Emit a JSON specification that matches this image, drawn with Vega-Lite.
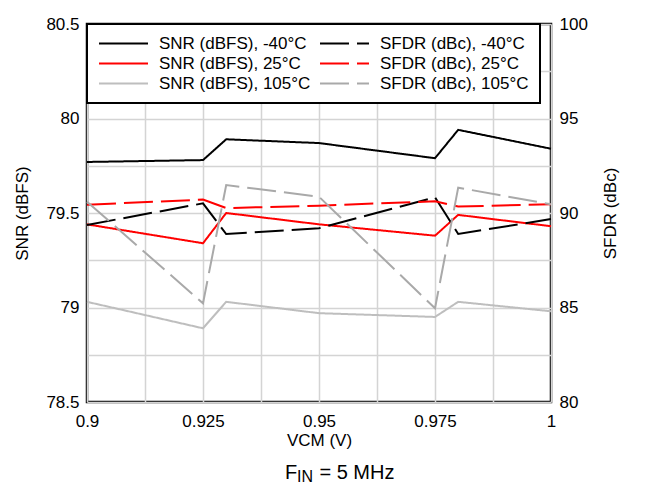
{
  "$schema": "https://vega.github.io/schema/vega-lite/v6.json",
  "width": 464,
  "height": 378,
  "autosize": {"type": "none"},
  "padding": {"left": 87, "top": 24, "right": 103, "bottom": 83},
  "background": "white",
  "title": {
    "text": "F\u2007\u2008 = 5 MHz",
    "subtitle": "\u200B\u2007\u2009IN",
    "orient": "bottom",
    "anchor": "middle",
    "frame": "group",
    "align": "left",
    "dx": -34,
    "offset": 15,
    "fontSize": 20,
    "fontWeight": "normal",
    "font": "Liberation Sans",
    "color": "black",
    "subtitleFontSize": 16,
    "subtitleFont": "Liberation Sans",
    "subtitleColor": "black",
    "subtitlePadding": -14
  },
  "data": {
    "values": [
      {"vcm": 0.9, "metric": "SNR", "series": "SNR (dBFS), -40°C", "value": 79.77},
      {"vcm": 0.925, "metric": "SNR", "series": "SNR (dBFS), -40°C", "value": 79.78},
      {"vcm": 0.93, "metric": "SNR", "series": "SNR (dBFS), -40°C", "value": 79.89},
      {"vcm": 0.95, "metric": "SNR", "series": "SNR (dBFS), -40°C", "value": 79.87},
      {"vcm": 0.975, "metric": "SNR", "series": "SNR (dBFS), -40°C", "value": 79.79},
      {"vcm": 0.98, "metric": "SNR", "series": "SNR (dBFS), -40°C", "value": 79.94},
      {"vcm": 1.0, "metric": "SNR", "series": "SNR (dBFS), -40°C", "value": 79.84},
      {"vcm": 0.9, "metric": "SNR", "series": "SNR (dBFS), 25°C", "value": 79.44},
      {"vcm": 0.925, "metric": "SNR", "series": "SNR (dBFS), 25°C", "value": 79.34},
      {"vcm": 0.93, "metric": "SNR", "series": "SNR (dBFS), 25°C", "value": 79.5},
      {"vcm": 0.95, "metric": "SNR", "series": "SNR (dBFS), 25°C", "value": 79.44},
      {"vcm": 0.975, "metric": "SNR", "series": "SNR (dBFS), 25°C", "value": 79.38},
      {"vcm": 0.98, "metric": "SNR", "series": "SNR (dBFS), 25°C", "value": 79.49},
      {"vcm": 1.0, "metric": "SNR", "series": "SNR (dBFS), 25°C", "value": 79.43},
      {"vcm": 0.9, "metric": "SNR", "series": "SNR (dBFS), 105°C", "value": 79.03},
      {"vcm": 0.925, "metric": "SNR", "series": "SNR (dBFS), 105°C", "value": 78.89},
      {"vcm": 0.93, "metric": "SNR", "series": "SNR (dBFS), 105°C", "value": 79.03},
      {"vcm": 0.95, "metric": "SNR", "series": "SNR (dBFS), 105°C", "value": 78.97},
      {"vcm": 0.975, "metric": "SNR", "series": "SNR (dBFS), 105°C", "value": 78.95},
      {"vcm": 0.98, "metric": "SNR", "series": "SNR (dBFS), 105°C", "value": 79.03},
      {"vcm": 1.0, "metric": "SNR", "series": "SNR (dBFS), 105°C", "value": 78.98},
      {"vcm": 0.9, "metric": "SFDR", "series": "SFDR (dBc), -40°C", "value": 89.37},
      {"vcm": 0.925, "metric": "SFDR", "series": "SFDR (dBc), -40°C", "value": 90.51},
      {"vcm": 0.93, "metric": "SFDR", "series": "SFDR (dBc), -40°C", "value": 88.89},
      {"vcm": 0.95, "metric": "SFDR", "series": "SFDR (dBc), -40°C", "value": 89.19},
      {"vcm": 0.975, "metric": "SFDR", "series": "SFDR (dBc), -40°C", "value": 90.83},
      {"vcm": 0.98, "metric": "SFDR", "series": "SFDR (dBc), -40°C", "value": 88.89},
      {"vcm": 1.0, "metric": "SFDR", "series": "SFDR (dBc), -40°C", "value": 89.68},
      {"vcm": 0.9, "metric": "SFDR", "series": "SFDR (dBc), 25°C", "value": 90.44},
      {"vcm": 0.925, "metric": "SFDR", "series": "SFDR (dBc), 25°C", "value": 90.71},
      {"vcm": 0.93, "metric": "SFDR", "series": "SFDR (dBc), 25°C", "value": 90.26},
      {"vcm": 0.95, "metric": "SFDR", "series": "SFDR (dBc), 25°C", "value": 90.39},
      {"vcm": 0.975, "metric": "SFDR", "series": "SFDR (dBc), 25°C", "value": 90.62},
      {"vcm": 0.98, "metric": "SFDR", "series": "SFDR (dBc), 25°C", "value": 90.34},
      {"vcm": 1.0, "metric": "SFDR", "series": "SFDR (dBc), 25°C", "value": 90.46},
      {"vcm": 0.9, "metric": "SFDR", "series": "SFDR (dBc), 105°C", "value": 90.6},
      {"vcm": 0.925, "metric": "SFDR", "series": "SFDR (dBc), 105°C", "value": 85.22},
      {"vcm": 0.93, "metric": "SFDR", "series": "SFDR (dBc), 105°C", "value": 91.48},
      {"vcm": 0.95, "metric": "SFDR", "series": "SFDR (dBc), 105°C", "value": 90.86},
      {"vcm": 0.975, "metric": "SFDR", "series": "SFDR (dBc), 105°C", "value": 84.96},
      {"vcm": 0.98, "metric": "SFDR", "series": "SFDR (dBc), 105°C", "value": 91.34},
      {"vcm": 1.0, "metric": "SFDR", "series": "SFDR (dBc), 105°C", "value": 90.46}
    ]
  },
  "encoding": {
    "x": {
      "field": "vcm",
      "type": "quantitative",
      "scale": {"domain": [0.9, 1.0], "nice": false, "zero": false},
      "axis": {
        "title": "VCM (V)",
        "values": [0.9, 0.9125, 0.925, 0.9375, 0.95, 0.9625, 0.975, 0.9875, 1.0],
        "labelExpr": "round(datum.value * 1000) % 25 == 0 ? format(datum.value, '~g') : ''",
        "grid": true,
        "gridColor": "#d4d4d4",
        "gridWidth": 1.5,
        "domain": false,
        "ticks": false,
        "tickSize": 0,
        "labelPadding": 11,
        "labelFontSize": 17,
        "labelColor": "black",
        "labelFont": "Liberation Sans",
        "titleFont": "Liberation Sans",
        "titleFontSize": 17,
        "titleFontWeight": "normal",
        "titleColor": "black",
        "titlePadding": 3,
        "labelFlush": false
      }
    },
    "color": {
      "field": "series",
      "type": "nominal",
      "scale": {
        "domain": ["SNR (dBFS), -40°C", "SNR (dBFS), 25°C", "SNR (dBFS), 105°C", "SFDR (dBc), -40°C", "SFDR (dBc), 25°C", "SFDR (dBc), 105°C"],
        "range": ["#000000", "#ff0000", "#bebebe", "#000000", "#ff0000", "#a9a9a9"]
      },
      "legend": {
        "title": null,
        "orient": "top-left",
        "offset": 0,
        "columns": 2,
        "columnPadding": 8,
        "rowPadding": 2,
        "padding": 11,
        "clipHeight": 17,
        "fillColor": "white",
        "strokeColor": "black",
        "symbolType": "stroke",
        "symbolSize": 2401,
        "symbolStrokeWidth": 2,
        "labelOffset": 10,
        "labelFontSize": 17,
        "labelFont": "Liberation Sans",
        "labelColor": "black",
        "labelLimit": 300,
        "encode": {"legend": {"update": {"strokeWidth": {"value": 2}}}}
      }
    },
    "strokeDash": {
      "field": "series",
      "type": "nominal",
      "scale": {
        "domain": ["SNR (dBFS), -40°C", "SNR (dBFS), 25°C", "SNR (dBFS), 105°C", "SFDR (dBc), -40°C", "SFDR (dBc), 25°C", "SFDR (dBc), 105°C"],
        "range": [[1, 0], [1, 0], [1, 0], [29, 8], [29, 8], [29, 8]]
      },
      "legend": {
        "title": null,
        "orient": "top-left",
        "offset": 0,
        "columns": 2,
        "columnPadding": 8,
        "rowPadding": 2,
        "padding": 11,
        "clipHeight": 17,
        "fillColor": "white",
        "strokeColor": "black",
        "symbolType": "stroke",
        "symbolSize": 2401,
        "symbolStrokeWidth": 2,
        "labelOffset": 10,
        "labelFontSize": 17,
        "labelFont": "Liberation Sans",
        "labelColor": "black",
        "labelLimit": 300,
        "encode": {"legend": {"update": {"strokeWidth": {"value": 2}}}}
      }
    }
  },
  "layer": [
    {
      "transform": [{"filter": "datum.metric == 'SNR'"}],
      "mark": {"type": "line", "strokeWidth": 2},
      "encoding": {
        "y": {
          "field": "value",
          "type": "quantitative",
          "scale": {"domain": [78.5, 80.5], "nice": false, "zero": false},
          "axis": {
            "orient": "left",
            "title": "SNR (dBFS)",
            "values": [78.5, 78.75, 79, 79.25, 79.5, 79.75, 80, 80.25, 80.5],
            "labelExpr": "datum.value % 0.5 == 0 ? format(datum.value, '~g') : ''",
            "grid": true,
            "gridColor": "#d4d4d4",
            "gridWidth": 1.5,
            "domain": false,
            "ticks": false,
            "tickSize": 0,
            "labelPadding": 8,
            "labelFontSize": 17,
            "labelColor": "black",
            "labelFont": "Liberation Sans",
            "labelFlush": false,
            "titleFont": "Liberation Sans",
            "titleFontSize": 17,
            "titleFontWeight": "normal",
            "titleColor": "black",
            "titlePadding": 14.5
          }
        }
      }
    },
    {
      "transform": [{"filter": "datum.metric == 'SFDR'"}],
      "mark": {"type": "line", "strokeWidth": 2},
      "encoding": {
        "y": {
          "field": "value",
          "type": "quantitative",
          "scale": {"domain": [80, 100], "nice": false, "zero": false},
          "axis": {
            "orient": "right",
            "title": "SFDR (dBc)",
            "titleAngle": 270,
            "values": [80, 85, 90, 95, 100],
            "grid": false,
            "domain": false,
            "ticks": false,
            "tickSize": 0,
            "labelPadding": 8,
            "labelFontSize": 17,
            "labelColor": "black",
            "labelFont": "Liberation Sans",
            "labelFlush": false,
            "titleFont": "Liberation Sans",
            "titleFontSize": 17,
            "titleFontWeight": "normal",
            "titleColor": "black",
            "titlePadding": 32
          }
        }
      }
    }
  ],
  "resolve": {"scale": {"y": "independent"}},
  "config": {
    "font": "Liberation Sans",
    "view": {"stroke": "black", "strokeWidth": 2.5}
  }
}
